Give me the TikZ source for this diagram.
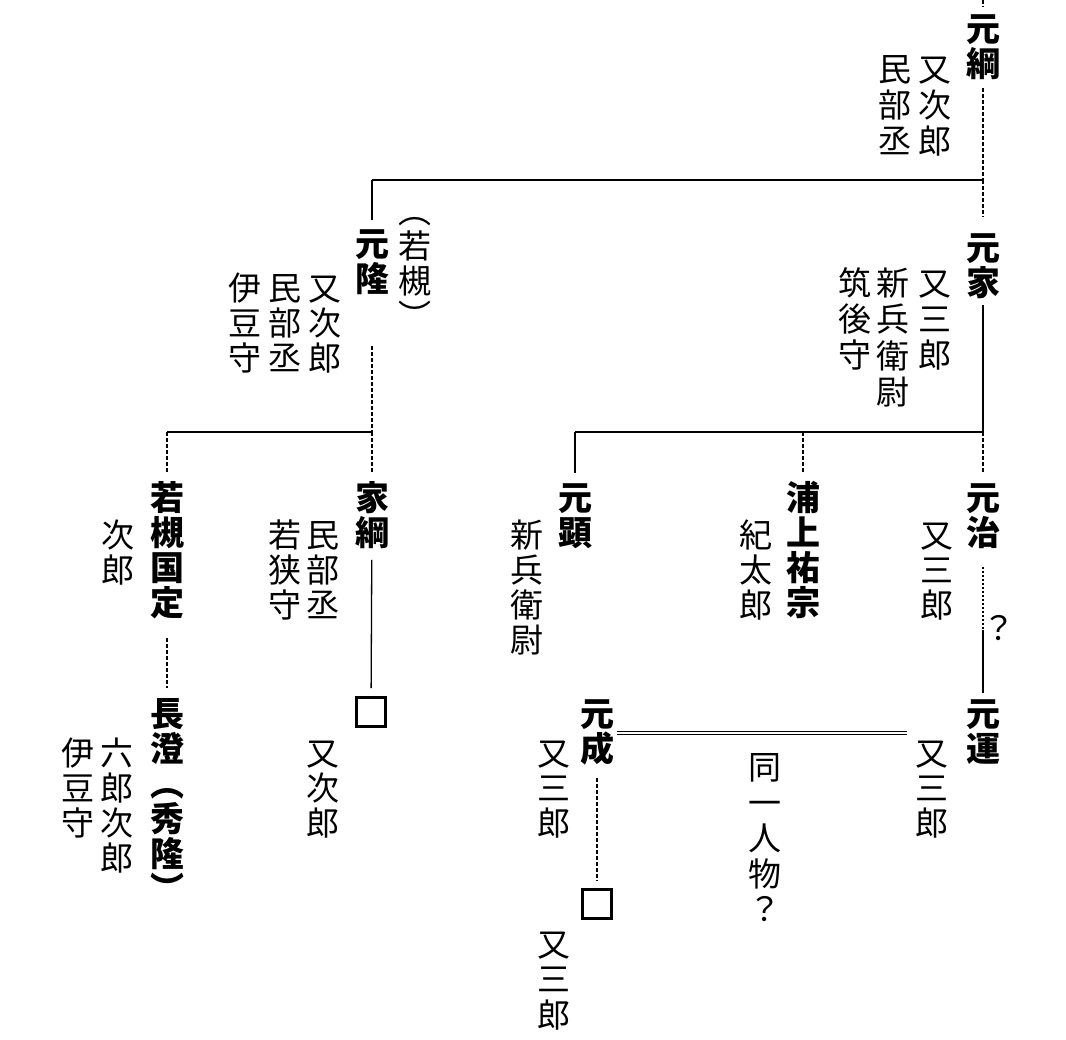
\documentclass[tikz,border=0pt]{standalone}
\usepackage{fontspec}
\newfontfamily\cjk{Noto Sans CJK JP}
\makeatletter
\newcommand\vt[2][35]{\vbox{\offinterlineskip\@tfor\vt@c:=#2\do{\hbox to 36pt{\hss\rule[\dimexpr 0.38em-#1pt/2\relax]{0pt}{#1pt}\vt@c\hss}}}}
\makeatother
\tikzset{
  nm/.style={font=\cjk\bfseries\fontsize{34}{35}\selectfont, inner sep=0pt, anchor=north},
  sb/.style={font=\cjk\fontsize{33}{35}\selectfont, inner sep=0pt, anchor=north},
  sl/.style={line width=1.3pt},
  dl/.style={line width=1.2pt, dash pattern=on 4pt off 2pt},
  dotl/.style={line width=1.2pt, dash pattern=on 2pt off 2pt},
  dbl/.style={double, double distance=2.2pt, line width=1.2pt},
  sqbox/.style={draw, line width=3.4pt, minimum size=28.5pt, inner sep=0pt},
}
\begin{document}
\begin{tikzpicture}[x=1pt,y=-1pt]
\fill[white] (0,0) rectangle (1066,1040);
\useasboundingbox (0,0) rectangle (1066,1040);

% row 0
\node[nm] (motsuna) at (983,10.5) {\vt{元綱}};
\node[sb] (motsunaA) at (935,50.5) {\vt[36]{又次郎}};
\node[sb] (motsunaB) at (895,50.5) {\vt[36]{民部丞}};

% row 1
\node[sb] (mtakaP) at (415,193.5) {\vt{︵若槻︶}};
\node[nm] (mtaka) at (372,225.5) {\vt{元隆}};
\node[sb] (mtakaA) at (325,270.5) {\vt{又次郎}};
\node[sb] (mtakaB) at (285,270.5) {\vt{民部丞}};
\node[sb] (mtakaC) at (245,270.5) {\vt{伊豆守}};
\node[nm] (mie) at (983,229.5) {\vt{元家}};
\node[sb] (mieA) at (935,264.5) {\vt[36]{又三郎}};
\node[sb] (mieB) at (893,264.5) {\vt[36.5]{新兵衛尉}};
\node[sb] (mieC) at (855,264.5) {\vt[36]{筑後守}};

% row 2
\node[nm] (kunisada) at (167,479.5) {\vt{若槻国定}};
\node[sb] (kunisadaA) at (118,517) {\vt{次郎}};
\node[nm] (ietsuna) at (372,479.5) {\vt{家綱}};
\node[sb] (ietsunaA) at (323,517) {\vt{民部丞}};
\node[sb] (ietsunaB) at (285,517) {\vt{若狭守}};
\node[nm] (makira) at (575,479.5) {\vt{元顕}};
\node[sb] (makiraA) at (527,517) {\vt{新兵衛尉}};
\node[nm] (sukemune) at (803,479.5) {\vt{浦上祐宗}};
\node[sb] (sukemuneA) at (756,517) {\vt{紀太郎}};
\node[nm] (mharu) at (983,479.5) {\vt{元治}};
\node[sb] (mharuA) at (937,517) {\vt{又三郎}};
\node[sb, anchor=center] (qm) at (999,628) {？};

% row 3
\node[nm] (nagazumi) at (167,695.5) {\vt{長澄︵秀隆︶}};
\node[sb] (nagazumiA) at (117,735) {\vt{六郎次郎}};
\node[sb] (nagazumiB) at (78,735) {\vt{伊豆守}};
\node[sqbox] (box1) at (371,712) {};
\node[sb] (box1A) at (323,735) {\vt{又次郎}};
\node[nm] (mnari) at (597,695.5) {\vt{元成}};
\node[sb] (mnariA) at (554,735) {\vt{又三郎}};
\node[sb] (same) at (765,749.5) {\vt[35.5]{同一人物？}};
\node[nm] (mkazu) at (983,695.5) {\vt{元運}};
\node[sb] (mkazuA) at (932,735) {\vt{又三郎}};
\node[sqbox] (box2) at (597,904) {};
\node[sb] (box2A) at (554,926) {\vt[35.5]{又三郎}};

% junctions
\coordinate (t0) at (983,0);
\coordinate (h1R) at (983,180);
\coordinate (h1L) at (372,180);
\coordinate (h2R) at (372,432);
\coordinate (h2L) at (167,432);
\coordinate (h3R) at (983,432);
\coordinate (h3M) at (803,432);
\coordinate (h3L) at (575,432);
\coordinate (q1) at (983,630);
\coordinate (dA) at (617,733);
\coordinate (dB) at (907,733);

% connectors
\draw[dl, shorten >=4pt] (t0) -- (motsuna);
\draw[dl, shorten <=7pt] (motsuna) -- (h1R);
\draw[sl] (h1L) -- (h1R);
\draw[sl, shorten >=5pt] (h1L) -- (mtaka);
\draw[dl, shorten >=12pt] (h1R) -- (mie);
\draw[dl, shorten <=50pt] (mtaka) -- (h2R);
\draw[sl] (h2L) -- (h2R);
\draw[dl, shorten >=6pt] (h2R) -- (ietsuna);
\draw[dl, shorten >=6pt] (h2L) -- (kunisada);
\draw[sl, shorten <=5pt] (mie) -- (h3R);
\draw[sl] (h3L) -- (h3R);
\draw[sl, shorten >=6pt] (h3L) -- (makira);
\draw[dl, shorten >=6pt] (h3M) -- (sukemune);
\draw[dl, shorten >=6pt] (h3R) -- (mharu);
\draw[dl, shorten <=18pt, shorten >=8pt] (kunisada) -- (nagazumi);
\draw[sl, shorten <=10pt, shorten >=8pt] (ietsuna) -- (box1);
\draw[dotl, shorten <=17pt] (mharu) -- (q1);
\draw[sl, shorten >=3pt] (q1) -- (mkazu);
\draw[dl, shorten <=12pt, shorten >=8pt] (mnari) -- (box2);
\draw[dbl] (dA) -- (dB);
\end{tikzpicture}
\end{document}
